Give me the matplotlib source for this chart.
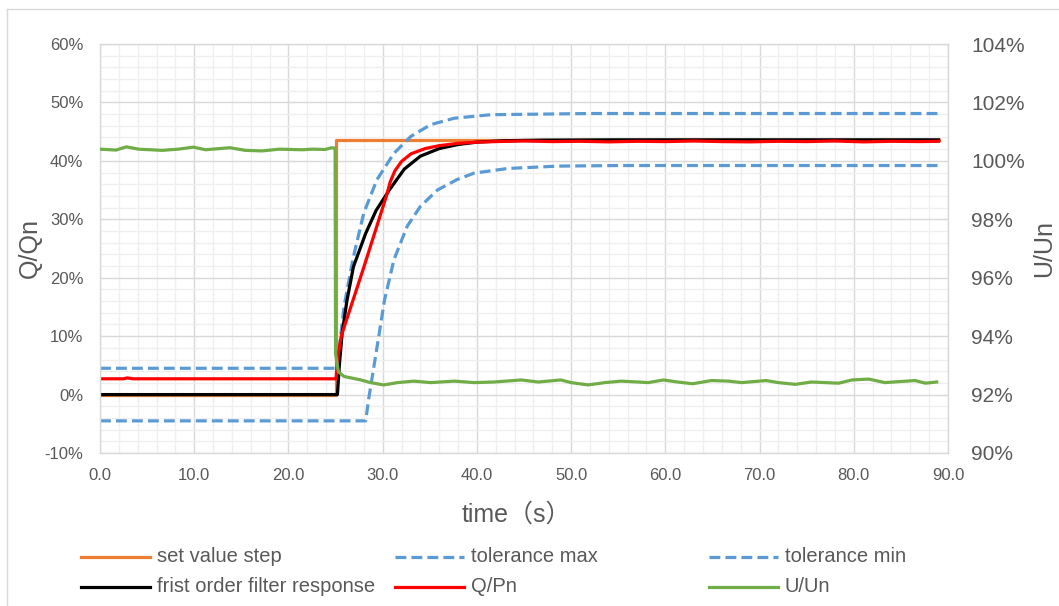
import matplotlib
matplotlib.use("Agg")
import matplotlib.pyplot as plt
from matplotlib.lines import Line2D
from matplotlib.ticker import MultipleLocator, FuncFormatter

# ---- data (time in s, values in %) ----
step_t = [0.0, 25.0, 25.0, 89.0]
step_v = [0.0, 0.0, 43.6, 43.6]

tol_max_t = [0.0, 25.2, 25.5, 25.9, 26.9, 28.0, 29.4, 31.2, 33.0, 35.1, 37.6, 41.5, 46.8, 52.0, 89.0]
tol_max_v = [4.5, 4.5, 9.5, 15.1, 23.6, 31.1, 36.8, 41.3, 44.2, 46.2, 47.3, 47.9, 48.0, 48.1, 48.1]

tol_min_t = [0.0, 28.2, 28.5, 29.3, 30.2, 31.2, 32.6, 34.0, 35.8, 37.9, 39.7, 43.3, 48.6, 55.0, 89.0]
tol_min_v = [-4.5, -4.5, -0.9, 7.1, 16.2, 23.1, 28.8, 32.2, 35.0, 36.8, 37.9, 38.7, 39.1, 39.2, 39.2]

filter_t = [0.0, 25.2, 25.4, 25.7, 26.2, 26.9, 28.2, 29.3, 30.7, 32.3, 34.0, 36.0, 38.0, 40.0, 43.0, 47.0, 55.0, 89.0]
filter_v = [0.0, 0.0, 5.0, 10.5, 16.0, 21.9, 27.6, 31.5, 35.0, 38.6, 40.8, 42.1, 42.8, 43.2, 43.45, 43.55, 43.6, 43.6]

q_t = [0.0, 2.5, 2.9, 3.5, 25.05, 25.25, 25.6, 28.0, 30.4, 30.8,
       31.3, 32.0, 33.0, 34.5, 36.0, 38.0, 40.0, 42.0, 45.0, 48.0,
       51.0, 54.0, 57.0, 60.0, 63.0, 66.0, 69.0, 72.0, 75.0, 78.0, 81.0, 84.0, 87.0, 89.0]
q_v = [2.7, 2.7, 2.85, 2.7, 2.7, 6.5, 10.0, 21.8, 34.0, 36.4,
       38.3, 39.9, 41.2, 42.1, 42.6, 43.0, 43.2, 43.3, 43.4, 43.3,
       43.35, 43.25, 43.35, 43.3, 43.4, 43.3, 43.25, 43.35, 43.3, 43.4, 43.25, 43.35, 43.3, 43.35]

u_t = [0.0, 1.7, 2.8, 4.1, 6.6, 8.3, 9.9, 11.2, 13.8, 15.4, 17.2, 19.0, 21.5, 22.5, 23.9, 24.6, 24.95,
       25.0, 25.3, 25.9, 27.7, 28.7, 30.1, 31.6, 33.3, 35.1, 37.6, 39.7, 41.8, 44.7, 46.5, 48.9, 50.0, 51.8,
       53.6, 55.3, 57.1,
       58.2, 59.8, 61.3, 62.9, 64.9, 66.7, 68.1, 70.7, 72.0, 73.8, 75.5, 78.4, 79.8, 81.6, 83.3, 86.5, 87.6, 88.8]
u_v = [100.40, 100.37, 100.48, 100.40, 100.36, 100.40, 100.47, 100.38, 100.45, 100.36, 100.34, 100.40,
       100.38, 100.40, 100.39, 100.45, 100.43,
       93.4, 92.78, 92.62, 92.50, 92.41, 92.33, 92.41, 92.46, 92.41, 92.46, 92.41, 92.43, 92.50, 92.43,
       92.50, 92.41, 92.33, 92.41, 92.46, 92.43,
       92.41, 92.50, 92.43, 92.37, 92.48, 92.46, 92.41, 92.48, 92.41, 92.35, 92.43, 92.39, 92.50, 92.53,
       92.41, 92.48, 92.39, 92.43]

labels = ["set value step", "tolerance max", "tolerance min",
          "frist order filter response", "Q/Pn", "U/Un"]

# ---- style ----
ORANGE, BLUE, BLACK, RED, GREEN = "#ED7D31", "#5B9BD5", "#000000", "#FF0000", "#70AD47"
TXT = "#595959"
GRID_MAJ, GRID_MIN = "#D9D9D9", "#EFEFEF"
LW = 2.3
DASH = (3.4, 1.6)
TEXT_FONT = ["Liberation Sans", "Noto Sans CJK SC", "DejaVu Sans"]

W, H = 1059, 606
fig = plt.figure(figsize=(W / 100, H / 100), dpi=100)

# chart-area frame
fig.add_artist(Line2D([7 / W, 1.0], [1 - 9 / H, 1 - 9 / H], color=GRID_MAJ, lw=1.0))
fig.add_artist(Line2D([7 / W, 7 / W], [0.0, 1 - 9 / H], color=GRID_MAJ, lw=1.0))

ax = fig.add_axes([100 / W, 1 - 453 / H, 848 / W, 409 / H])
ax.set_xlim(0, 90)
ax.set_ylim(-10, 60)
ax.xaxis.set_major_locator(MultipleLocator(10))
ax.xaxis.set_minor_locator(MultipleLocator(2))
ax.yaxis.set_major_locator(MultipleLocator(10))
ax.yaxis.set_minor_locator(MultipleLocator(2))
ax.grid(which="minor", color=GRID_MIN, lw=0.9, zorder=0)
ax.grid(which="major", color=GRID_MAJ, lw=1.0, zorder=0)
ax.set_axisbelow(True)
for s in ax.spines.values():
    s.set_color(GRID_MAJ)
    s.set_linewidth(1.0)

ax.xaxis.set_major_formatter(FuncFormatter(lambda v, p: f"{v:.1f}"))
ax.yaxis.set_major_formatter(FuncFormatter(lambda v, p: f"{v:.0f}%"))
ax.tick_params(which="both", length=0, colors=TXT)
ax.tick_params(axis="y", pad=12)
ax.tick_params(axis="x", pad=11)
for lab in ax.get_xticklabels() + ax.get_yticklabels():
    lab.set_family(TEXT_FONT)
    lab.set_fontsize(12)

styles = [
    dict(color=ORANGE, lw=LW),
    dict(color=BLUE, lw=LW, ls=(0, DASH)),
    dict(color=BLUE, lw=LW, ls=(0, DASH)),
    dict(color=BLACK, lw=LW),
    dict(color=RED, lw=LW),
    dict(color=GREEN, lw=LW),
]

ax.plot(step_t, step_v, **styles[0])
ax.plot(tol_max_t, tol_max_v, **styles[1])
ax.plot(tol_min_t, tol_min_v, **styles[2])
ax.plot(filter_t, filter_v, **styles[3])
ax.plot(q_t, q_v, **styles[4])

ax2 = ax.twinx()
ax2.set_ylim(90, 104)
ax2.yaxis.set_major_locator(MultipleLocator(2))
ax2.yaxis.set_major_formatter(FuncFormatter(lambda v, p: f"{v:.0f}%"))
ax2.tick_params(length=0, colors=TXT, pad=16.5)
for lab in ax2.get_yticklabels():
    lab.set_family(TEXT_FONT)
    lab.set_fontsize(15)
for s in ax2.spines.values():
    s.set_visible(False)
ax2.plot(u_t, u_v, **styles[5])

# axis titles
fig.text(30 / W, 1 - 248 / H, "Q/Qn", rotation=90, ha="center", va="center",
         color=TXT, fontsize=18, family=TEXT_FONT)
fig.text(1044 / W, 1 - 248 / H, "U/Un", rotation=90, ha="center", va="center",
         color=TXT, fontsize=18, family=TEXT_FONT)
fig.text(516 / W, 1 - 515 / H, "time（s）", ha="center", va="center",
         color=TXT, fontsize=18, family=TEXT_FONT)

# legend, 3 columns x 2 rows under the plot
for i, (lab, st) in enumerate(zip(labels, styles)):
    col, row = i % 3, i // 3
    x0 = 81 + col * 314
    y = 557 + row * 30
    fig.add_artist(Line2D([x0 / W, (x0 + 69) / W], [1 - y / H, 1 - y / H], **st))
    fig.text((x0 + 76) / W, 1 - y / H, lab, ha="left", va="center",
             color=TXT, fontsize=14.5, family=TEXT_FONT)

fig.savefig("out.png", dpi=100)
